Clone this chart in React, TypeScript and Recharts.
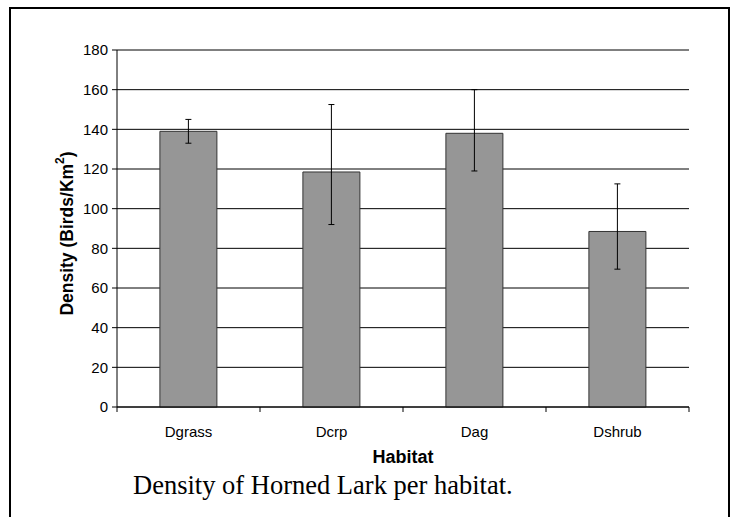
import React from 'react';
import { BarChart, Bar, XAxis, YAxis, CartesianGrid, ErrorBar } from 'recharts';

const habitats = ['Dgrass', 'Dcrp', 'Dag', 'Dshrub'];
const density = [139, 118.5, 138, 88.5];
const errLow = [6, 26.5, 19, 19];
const errHigh = [6, 34, 22, 24];
const yTicks = [0, 20, 40, 60, 80, 100, 120, 140, 160, 180];

const xTitle = 'Habitat';
const caption = 'Density of Horned Lark per habitat.';

const data = habitats.map((h, i) => ({
  habitat: h,
  density: density[i],
  err: [errLow[i], errHigh[i]],
}));

const W = 731;
const H = 517;
const MARGIN = { top: 50, right: 42, left: 57, bottom: 50 };
const Y_AXIS_W = 60;
const PLOT_W = W - MARGIN.left - MARGIN.right - Y_AXIS_W;
const BAND = PLOT_W / habitats.length;
const SANS = '"Liberation Sans", Arial, Helvetica, sans-serif';
const SERIF = '"Liberation Serif", "Times New Roman", serif';
const X_TICK_SIZE = 5;
const X_TICK_MARGIN = 14;

const XTick = (props: any) => {
  const { x, y, payload, index } = props;
  const axisY = y - X_TICK_SIZE - X_TICK_MARGIN;
  const half = BAND / 2;
  return (
    <g>
      <line x1={x - half} x2={x - half} y1={axisY} y2={axisY + X_TICK_SIZE} stroke="#000" />
      {index === habitats.length - 1 && (
        <line x1={x + half} x2={x + half} y1={axisY} y2={axisY + X_TICK_SIZE} stroke="#000" />
      )}
      <text x={x} y={y} dy="0.71em" textAnchor="middle" fontFamily={SANS} fontSize={15} fill="#000">
        {payload.value}
      </text>
    </g>
  );
};

const YTitle = (props: any) => {
  const vb = props.viewBox || { x: MARGIN.left, y: MARGIN.top, width: Y_AXIS_W, height: 357 };
  const cx = vb.x + 10;
  const cy = vb.y + vb.height / 2 + 5;
  return (
    <text
      x={cx}
      y={cy}
      transform={`rotate(-90, ${cx}, ${cy})`}
      textAnchor="middle"
      dominantBaseline="central"
      fontFamily={SANS}
      fontWeight="bold"
      fontSize={17.5}
      fill="#000"
    >
      Density (Birds/Km<tspan baselineShift="super" fontSize={12}>2</tspan>)
    </text>
  );
};

export default function App() {
  return (
    <div style={{ position: 'absolute', left: 0, top: 0, width: W, height: H, background: '#fff', overflow: 'hidden' }}>
      <div
        style={{
          position: 'absolute',
          left: 9,
          top: 7,
          width: 721,
          height: H - 7,
          boxSizing: 'border-box',
          borderLeft: '2px solid #000',
          borderRight: '2px solid #000',
          borderTop: '2px solid #000',
        }}
      />
      <div style={{ position: 'absolute', left: 0, top: 0 }}>
        <BarChart width={W} height={H} data={data} margin={MARGIN} barCategoryGap="30%">
          <CartesianGrid vertical={false} stroke="#000" strokeWidth={1} />
          <XAxis
            dataKey="habitat"
            height={60}
            tickSize={X_TICK_SIZE}
            tickMargin={X_TICK_MARGIN}
            tickLine={false}
            tick={<XTick />}
            interval={0}
            axisLine={{ stroke: '#000' }}
            label={{
              value: xTitle,
              position: 'insideBottom',
              offset: 4,
              style: { fontFamily: SANS, fontWeight: 'bold', fontSize: 18, fill: '#000' },
            }}
          />
          <YAxis
            width={Y_AXIS_W}
            domain={[0, 180]}
            ticks={yTicks}
            interval={0}
            tickSize={5}
            tickMargin={4}
            axisLine={{ stroke: '#000' }}
            tickLine={{ stroke: '#000' }}
            tick={{ fontFamily: SANS, fontSize: 15, fill: '#000' }}
            label={<YTitle />}
          />
          <YAxis
            yAxisId="right"
            orientation="right"
            width={0}
            domain={[0, 180]}
            tick={false}
            tickLine={false}
            axisLine={{ stroke: '#808080' }}
          />
          <Bar dataKey="density" fill="#969696" stroke="#333" strokeWidth={1} isAnimationActive={false}>
            <ErrorBar dataKey="err" width={3} stroke="#000" strokeWidth={1} direction="y" />
          </Bar>
        </BarChart>
      </div>
      <svg width={W} height={H} style={{ position: 'absolute', left: 0, top: 0, pointerEvents: 'none' }}>
        <text x={133} y={494} fontFamily={SERIF} fontSize={26.5} fill="#000">
          {caption}
        </text>
      </svg>
    </div>
  );
}
